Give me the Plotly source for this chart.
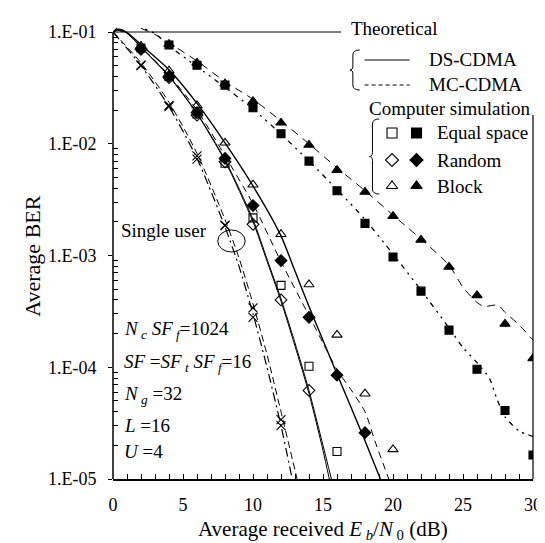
import plotly.graph_objects as go

# ---------------- data ----------------
# simulation markers
open_sq_x = [2, 4, 6, 8, 10, 12, 14, 16]
open_sq_y = [0.072, 0.040, 0.0185, 0.0067, 0.00217, 5.4e-4, 1.02e-4, 1.76e-5]
open_di_x = [2, 4, 6, 8, 10, 12, 14]
open_di_y = [0.070, 0.039, 0.018, 0.0069, 0.0019, 4.0e-4, 6.2e-5]
open_tri_x = [2, 4, 6, 8, 10, 12, 14, 16, 18, 20]
open_tri_y = [0.075, 0.045, 0.022, 0.0102, 0.0043, 0.00155, 5.5e-4, 1.95e-4, 5.8e-5, 1.84e-5]
fill_di_x = [2, 4, 6, 8, 10, 12, 14, 16, 18]
fill_di_y = [0.071, 0.040, 0.019, 0.0074, 0.0028, 9.0e-4, 2.8e-4, 8.5e-5, 2.6e-5]
fill_sq_x = [4, 6, 8, 10, 12, 14, 16, 18, 20, 22, 24, 26, 28, 30]
fill_sq_y = [0.0765, 0.0505, 0.0335, 0.021, 0.0123, 0.0070, 0.0038, 0.00194, 9.7e-4,
             4.8e-4, 2.15e-4, 9.6e-5, 4.1e-5, 1.64e-5]
fill_tri_x = [4, 6, 8, 10, 12, 14, 16, 18, 20, 22, 24, 26, 28, 30]
fill_tri_y = [0.078, 0.053, 0.0345, 0.024, 0.0154, 0.00975, 0.0058, 0.0037, 0.00225,
              0.00138, 7.9e-4, 4.4e-4, 2.44e-4, 1.2e-4]
su1_x = [0, 2, 4, 6, 8, 10, 12]
su1_y = [0.1, 0.0507, 0.022, 0.0078, 0.00187, 3.4e-4, 3.4e-5]
su2_x = [2, 4, 6, 8, 10, 12]
su2_y = [0.050, 0.0215, 0.0073, 0.00185, 2.8e-4, 3.0e-5]

# theoretical curves
ds_a_x = [0, 0.4, 1, 2, 4, 6, 8, 10, 12, 12.9, 14, 16, 18, 19.1]
ds_a_y = [0.1, 0.106, 0.099, 0.077, 0.046, 0.023, 0.0102, 0.0042, 0.0015, 7.8e-4,
          3.5e-4, 8.7e-5, 2.2e-5, 1e-5]
ds_b_x = [0, 0.4, 1, 2, 4, 6, 8, 10, 11, 12, 13, 14, 15, 15.45]
ds_b_y = [0.1, 0.105, 0.098, 0.073, 0.040, 0.0185, 0.0070, 0.0020, 8.9e-4, 3.9e-4,
          1.55e-4, 5.8e-5, 1.8e-5, 1e-5]
ds_c_x = [0, 0.4, 1, 2, 4, 6, 8, 10, 11, 12, 13, 14, 15, 15.6]
ds_c_y = [0.1, 0.105, 0.098, 0.0735, 0.0405, 0.0188, 0.0072, 0.0021, 9.3e-4, 4.1e-4,
          1.65e-4, 6.2e-5, 2.0e-5, 1e-5]
mc_rand_x = [0.2, 1, 2, 4, 6, 8, 10, 12, 14, 15, 16, 17, 18, 18.7, 19.7]
mc_rand_y = [0.105, 0.097, 0.074, 0.041, 0.020, 0.0078, 0.0029, 8.8e-4, 2.9e-4, 1.65e-4,
             9.5e-5, 6.3e-5, 4.0e-5, 2.2e-5, 1e-5]
su_dd_x = [0, 2, 4, 6, 8, 9, 10, 11, 12, 12.8]
su_dd_y = [0.1, 0.050, 0.0215, 0.0074, 0.0018, 8.0e-4, 3.0e-4, 1.0e-4, 3.0e-5, 1e-5]
su_da_x = [0, 2, 4, 6, 8, 9, 10, 11, 12, 13.15]
su_da_y = [0.1, 0.053, 0.0235, 0.0082, 0.0021, 9.5e-4, 3.7e-4, 1.3e-4, 4.0e-5, 1e-5]
mc_blk_x = [2, 3, 4, 6, 8, 10, 12, 14, 16, 18, 20, 22, 24, 25, 26, 26.5, 27.5, 28, 29, 30]
mc_blk_y = [0.108, 0.095, 0.080, 0.055, 0.036, 0.025, 0.016, 0.0100, 0.0061, 0.0038,
            0.0023, 0.0014, 8.2e-4, 5.2e-4, 3.8e-4, 3.5e-4, 3.6e-4, 3.1e-4, 2.4e-4, 1.75e-4]
mc_eq_x = [2.3, 3, 4, 6, 8, 10, 12, 14, 16, 18, 20, 22, 24, 25, 26, 26.9, 27.4, 28, 29, 30]
mc_eq_y = [0.106, 0.097, 0.075, 0.049, 0.032, 0.0205, 0.0122, 0.0070, 0.0039, 0.0021,
           0.00103, 4.9e-4, 2.25e-4, 1.5e-4, 1.1e-4, 7.9e-5, 5.3e-5, 3.6e-5, 2.7e-5, 2.4e-5]

y_tickvals = [1e-5, 1e-4, 1e-3, 1e-2, 1e-1]
y_ticktext = ["1.E-05", "1.E-04", "1.E-03", "1.E-02", "1.E-01"]
x_tickvals = [0, 5, 10, 15, 20, 25, 30]

FONT = "Liberation Serif, Times New Roman, DejaVu Serif, serif"
W, H = 545, 543
L, R, T, B = 105, 11, 20, 72
PW, PH = W - L - R, H - T - B


def px(x):
    return (x - L) / PW


def py(y):
    return (H - B - y) / PH


fig = go.Figure()


def line(x, y, dash="solid", width=1.2, smooth=0.7):
    fig.add_trace(go.Scatter(x=x, y=y, mode="lines",
                             line=dict(color="black", width=width, dash=dash,
                                       shape="spline", smoothing=smooth),
                             showlegend=False, hoverinfo="skip"))


def marks(x, y, symbol, size=8):
    fig.add_trace(go.Scatter(x=x, y=y, mode="markers",
                             marker=dict(symbol=symbol, size=size, color="black",
                                         line=dict(color="black", width=1.1)),
                             showlegend=False))


line(ds_a_x, ds_a_y, "solid", 1.4)
line(ds_b_x, ds_b_y, "solid", 1.0)
line(ds_c_x, ds_c_y, "solid", 1.0)
line(mc_rand_x, mc_rand_y, "7px,5px", 1.0)
line(su_dd_x, su_dd_y, "9px,4px,2px,4px", 1.2)
line(su_da_x, su_da_y, "7px,4px", 1.0)
line(mc_blk_x, mc_blk_y, "8px,6px", 1.0)
line(mc_eq_x, mc_eq_y, "2px,5px,2px,5px,5px,5px", 1.3)

marks(open_sq_x, open_sq_y, "square-open", 8)
marks(open_di_x, open_di_y, "diamond-open", 9)
marks(open_tri_x, open_tri_y, "triangle-up-open", 9)
marks(fill_di_x, fill_di_y, "diamond", 9)
marks(fill_sq_x, fill_sq_y, "square", 8)
marks(fill_tri_x, fill_tri_y, "triangle-up", 9)
marks(su1_x, su1_y, "x-thin-open", 9)
marks(su2_x, su2_y, "x-thin-open", 9)

shapes = []
# left axis line, top leader line, right line
shapes.append(dict(type="line", xref="paper", yref="paper", x0=0, x1=0, y0=0, y1=py(24),
                   line=dict(color="black", width=1.5)))
shapes.append(dict(type="line", xref="paper", yref="paper", x0=0, x1=px(338), y0=py(24), y1=py(24),
                   line=dict(color="black", width=1)))
shapes.append(dict(type="line", xref="paper", yref="paper", x0=1, x1=1, y0=0, y1=py(107),
                   line=dict(color="black", width=1.2)))
# legend sample lines
shapes.append(dict(type="line", xref="paper", yref="paper", x0=px(362), x1=px(408), y0=py(52), y1=py(52),
                   line=dict(color="black", width=1.2)))
shapes.append(dict(type="line", xref="paper", yref="paper", x0=px(362), x1=px(408), y0=py(77), y1=py(77),
                   line=dict(color="black", width=1, dash="4px,3px")))


def brace(xr, xt, y0, y1):
    ym = (y0 + y1) / 2
    xm = xr - 3
    pts = [("M", [(xr + 4, y0)]),
           ("Q", [(xm, y0), (xm, y0 + 5)]),
           ("L", [(xm, ym - 4)]),
           ("Q", [(xm, ym), (xt, ym)]),
           ("Q", [(xm, ym), (xm, ym + 4)]),
           ("L", [(xm, y1 - 5)]),
           ("Q", [(xm, y1), (xr + 4, y1)])]
    d = ""
    for cmd, ps in pts:
        d += cmd + " " + " ".join(f"{px(a):.5f},{py(b):.5f}" for a, b in ps) + " "
    return dict(type="path", xref="paper", yref="paper", path=d,
                line=dict(color="black", width=1))


shapes.append(brace(353, 347, 42, 82))
shapes.append(brace(373, 367, 111, 186))
# single-user ellipse
shapes.append(dict(type="circle", xref="paper", yref="paper",
                   x0=px(212), x1=px(240), y0=py(244), y1=py(222),
                   line=dict(color="black", width=1)))

annotations = []


def text(t, x, y, size=19, anchor="left", angle=0):
    annotations.append(dict(text=t, xref="paper", yref="paper", x=px(x), y=py(y),
                            xanchor=anchor, yanchor="middle", showarrow=False,
                            textangle=angle,
                            font=dict(family=FONT, size=size, color="black")))


text("Theoretical", 346, 21)
text("DS-CDMA", 426, 52)
text("MC-CDMA", 426, 77)
text("Computer simulation", 364, 101)
text("Equal space", 434, 125)
text("Random", 434, 152)
text("Block", 434, 178)
text("Single user", 111, 222)
text("<i>N</i><sub> <i>c</i></sub><i> SF</i><sub> <i>f</i></sub>=1024", 114, 322)
text("<i>SF</i> =<i>SF</i><sub> <i>t</i></sub><i> SF</i><sub> <i>f</i></sub>=16", 114, 355)
text("<i>N</i><sub> <i>g</i></sub> =32", 114, 387)
text("<i>L</i> =16", 114, 417)
text("<i>U</i> =4", 114, 443)
text("Average received <i>E</i><sub> <i>b</i></sub>/<i>N</i><sub> 0</sub> (dB)", 320, 522, 21, "center")
text("Average BER", 22, 248, 22, "center", -90)

# legend markers
leg_open = ["square-open", "diamond-open", "triangle-up-open"]
leg_fill = ["square", "diamond", "triangle-up"]
leg_rows = [125, 152, 178]
for so, sf, yy in zip(leg_open, leg_fill, leg_rows):
    for sym, xx in ((so, 390), (sf, 415)):
        fig.add_trace(go.Scatter(x=[px(xx)], y=[py(yy)], xaxis="x2", yaxis="y2", mode="markers",
                                 marker=dict(symbol=sym, size=10, color="black",
                                             line=dict(color="black", width=1.1)),
                                 showlegend=False, hoverinfo="skip", cliponaxis=False))

minor_y = [k * 10.0 ** e for e in range(-5, -1) for k in range(2, 10)]

fig.update_layout(
    width=W, height=H,
    margin=dict(l=L, r=R, t=T, b=B),
    paper_bgcolor="white", plot_bgcolor="white",
    font=dict(family=FONT, size=18, color="black"),
    xaxis=dict(range=[0, 30], tickvals=x_tickvals, showgrid=False, zeroline=False,
               showline=True, linecolor="black", linewidth=1.5,
               ticks="inside", ticklen=5, tickcolor="black",
               minor=dict(dtick=1, ticks="inside", ticklen=5, tickcolor="black", showgrid=False),
               ticklabelstandoff=9,
               tickfont=dict(family=FONT, size=18)),
    yaxis=dict(type="log", range=[-5, -0.964], tickvals=y_tickvals, ticktext=y_ticktext,
               showgrid=False, zeroline=False, showline=False,
               ticks="outside", ticklen=4, tickcolor="black",
               minor=dict(tickvals=minor_y, ticks="inside", ticklen=5, tickcolor="black", showgrid=False),
               ticklabelstandoff=8,
               tickfont=dict(family=FONT, size=18)),
    xaxis2=dict(range=[0, 1], overlaying="x", visible=False, fixedrange=True),
    yaxis2=dict(range=[0, 1], overlaying="y", visible=False, fixedrange=True),
    shapes=shapes, annotations=annotations,
)

fig.write_html("out.html")
